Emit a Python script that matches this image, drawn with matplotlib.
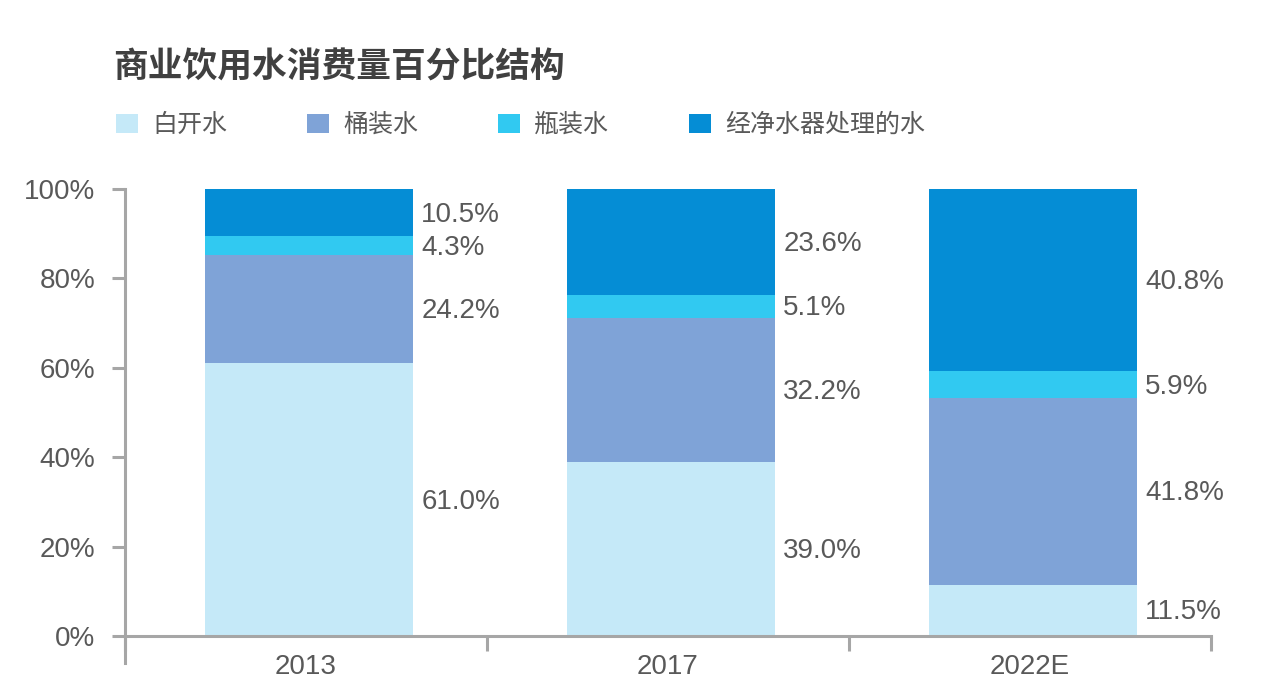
import matplotlib
matplotlib.use("Agg")
import matplotlib.pyplot as plt
from matplotlib.patches import Patch
from matplotlib.font_manager import FontProperties
import numpy as np

plt.rcParams['font.family'] = ['Liberation Sans', 'Noto Sans CJK SC', 'DejaVu Sans']

# ---- data ----
title = '商业饮用水消费量百分比结构'
years = ['2013', '2017', '2022E']
series_names = ['白开水', '桶装水', '瓶装水', '经净水器处理的水']
boiled = [61.0, 39.0, 11.5]
barrel = [24.2, 32.2, 41.8]
bottled = [4.3, 5.1, 5.9]
purifier = [10.5, 23.6, 40.8]
yticks = [0, 20, 40, 60, 80, 100]
ytick_labels = ['0%', '20%', '40%', '60%', '80%', '100%']

colors = ['#C5E9F8', '#7FA3D7', '#31C9F1', '#058DD5']
grey = '#A6A6A6'
text_c = '#595959'

fig = plt.figure(figsize=(12.81, 6.99), dpi=100)
ax = fig.add_axes([125/1281, 63/699, 1086/1281, 447/699])

x = np.arange(len(years))
width = 0.575
bottom = np.zeros(len(years))
for vals, col in zip([boiled, barrel, bottled, purifier], colors):
    vals = np.array(vals)
    ax.bar(x + 0.008, vals, width, bottom=bottom, color=col, linewidth=0, zorder=2)
    for xi, b, v in zip(x, bottom, vals):
        ax.annotate(f'{v:.1f}%', xy=(xi + 0.008 + width/2, b + v/2), xytext=(6, -1.5),
                    textcoords='offset points', ha='left', va='center',
                    fontsize=20, color=text_c)
    bottom += vals

ax.set_xlim(-0.5, 2.5)
ax.set_ylim(0, 100)

for s in ['top', 'right']:
    ax.spines[s].set_visible(False)
for s in ['left', 'bottom']:
    ax.spines[s].set_color(grey)
    ax.spines[s].set_linewidth(2.2)
ax.spines['left'].set_bounds(-6, 100)

ax.set_yticks(yticks)
ax.set_yticklabels(ytick_labels)
ax.tick_params(axis='y', length=9.5, width=2.2, color=grey, pad=12,
               labelsize=20, labelcolor=text_c)

ax.set_xticks(x)
ax.set_xticklabels(years)
ax.set_xticks([-0.5, 0.5, 1.5, 2.5], minor=True)
ax.tick_params(axis='x', which='major', length=0, pad=13, labelsize=20, labelcolor=text_c)
ax.tick_params(axis='x', which='minor', length=11, width=2.2, color=grey)

fig.text(113/1281, 1 - 67/699, title, fontsize=25, fontweight='bold', color='#404040',
         family=['Noto Sans CJK SC'], ha='left', va='center')

handles = [Patch(facecolor=c, edgecolor='none') for c in colors]
leg = fig.legend(handles, series_names, loc='center left',
                 bbox_to_anchor=(116/1281, 1 - 125/699), ncol=4, frameon=False,
                 prop=FontProperties(family='Noto Sans CJK SC', size=18),
                 handlelength=0.88, handleheight=0.8, handletextpad=0.56,
                 columnspacing=3.2, borderpad=0, borderaxespad=0)
for t in leg.get_texts():
    t.set_color(text_c)

fig.savefig('out.png', dpi=100)
